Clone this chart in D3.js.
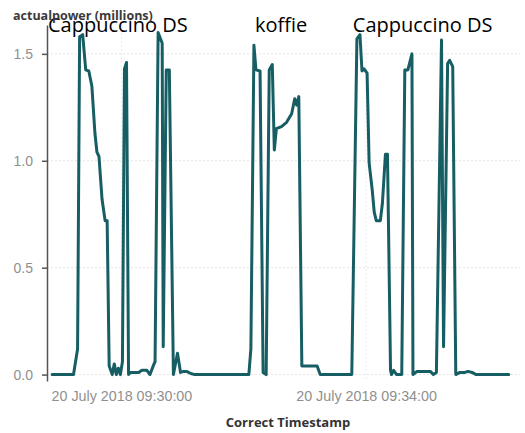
<!DOCTYPE html>
<html>
<head>
<meta charset="utf-8">
<script src="https://cdn.jsdelivr.net/npm/d3@7"></script>
<style>
  body { margin: 0; background: #fff; }
  svg { display: block; font-family: "Open Sans", sans-serif; }
</style>
</head>
<body>
<svg id="power-chart" width="525" height="433"></svg>
<script>
// readings, times on 20 July 2018
var times = [
    "09:28:52", "09:29:13", "09:29:17", "09:29:19", "09:29:22", "09:29:25", "09:29:28", "09:29:31",
    "09:29:34", "09:29:36", "09:29:38", "09:29:41", "09:29:44", "09:29:46", "09:29:48", "09:29:51",
    "09:29:53", "09:29:55", "09:29:57", "09:29:59", "09:30:01", "09:30:03", "09:30:05", "09:30:07",
    "09:30:09", "09:30:17", "09:30:20", "09:30:25", "09:30:28", "09:30:32", "09:30:33", "09:30:36",
    "09:30:40", "09:30:41", "09:30:44", "09:30:47", "09:30:51", "09:30:55", "09:30:58", "09:31:01",
    "09:31:04", "09:31:08", "09:31:12", "09:32:05", "09:32:07", "09:32:10", "09:32:12", "09:32:16",
    "09:32:19", "09:32:22", "09:32:25", "09:32:28", "09:32:30", "09:32:32", "09:32:37", "09:32:42",
    "09:32:47", "09:32:50", "09:32:52", "09:32:54", "09:32:57", "09:33:12", "09:33:15", "09:33:46",
    "09:33:51", "09:33:54", "09:33:56", "09:33:58", "09:34:01", "09:34:03", "09:34:06", "09:34:08",
    "09:34:10", "09:34:14", "09:34:16", "09:34:19", "09:34:21", "09:34:24", "09:34:25", "09:34:27",
    "09:34:30", "09:34:35", "09:34:38", "09:34:41", "09:34:45", "09:34:46", "09:34:50", "09:34:59",
    "09:35:03", "09:35:06", "09:35:09", "09:35:14", "09:35:16", "09:35:20", "09:35:22", "09:35:25",
    "09:35:28", "09:35:32", "09:35:37", "09:35:40", "09:35:44", "09:35:48", "09:36:20"
];

// actualpower in millions
var power = [
    0, 0, 0.12, 1.58, 1.59, 1.425, 1.42, 1.35,
    1.13, 1.04, 1.02, 0.82, 0.72, 0.72, 0.04, 0,
    0.05, 0, 0.03, 0, 0.06, 1.43, 1.46, 0,
    0.01, 0.01, 0.02, 0.02, 0, 0.05, 0.06, 1.6,
    1.55, 0.13, 1.425, 1.425, 0, 0.1, 0.01, 0.015,
    0.015, 0.005, 0, 0, 0.12, 1.54, 1.425, 1.42,
    0.01, 0, 1.425, 1.45, 1.05, 1.15, 1.16, 1.18,
    1.22, 1.29, 1.26, 1.3, 0.04, 0.04, 0, 0,
    1.57, 1.59, 1.42, 1.43, 1.41, 0.99, 0.865, 0.76,
    0.72, 0.72, 0.8, 1.03, 1.03, 0.02, 0, 0.02,
    0, 0, 1.425, 1.425, 1.5, 0, 0.015, 0.015,
    0.015, 0, 0.01, 1.565, 0.13, 1.455, 1.47, 1.44,
    0, 0.01, 0.01, 0.015, 0.01, 0, 0
];

var xStart = "09:28:47";
var xEnd = "09:36:31";
var xTicks = ["09:30:00", "09:34:00"];
var yTicks = [0, 0.5, 1.0, 1.5];
var yMin = -0.03, yMax = 1.635;

var notes = ["Cappuccino DS", "koffie", "Cappuccino DS"];
var noteTimes = ["09:28:48", "09:32:11", "09:33:47"];

var parseTime = d3.timeParse("%Y-%m-%d %H:%M:%S");
function toDate(t) { return parseTime("2018-07-20 " + t); }

function drawPowerChart() {
    let chart = d3.select("#power-chart"),
        margin = { top: 25, right: 5, bottom: 52, left: 47 },
        width = +chart.attr("width") - margin.left - margin.right,
        height = +chart.attr("height") - margin.top - margin.bottom;

    let chartData = [];
    for (let i = 0; i < times.length; i++) {
        chartData.push({ 'Time': toDate(times[i]), 'Value': power[i] });
    }

    let x = d3.scaleTime()
        .domain([toDate(xStart), toDate(xEnd)])
        .range([0, width]);

    let y = d3.scaleLinear()
        .domain([yMin, yMax])
        .range([height, 0]);

    let focus = chart.append("g")
        .attr("transform", "translate(" + margin.left + "," + margin.top + ")");

    // grid
    focus.append("g")
        .selectAll("line")
        .data(yTicks)
        .join("line")
        .attr("x1", 0)
        .attr("x2", width)
        .attr("y1", d => y(d))
        .attr("y2", d => y(d))
        .style("stroke", "#e4e4e4")
        .style("stroke-dasharray", "2,2");

    focus.append("g")
        .selectAll("line")
        .data(xTicks)
        .join("line")
        .attr("x1", d => x(toDate(d)))
        .attr("x2", d => x(toDate(d)))
        .attr("y1", 0)
        .attr("y2", height)
        .style("stroke", "#ececec")
        .style("stroke-dasharray", "2,2");

    let yAxis = d3.axisLeft(y)
        .tickValues(yTicks)
        .tickFormat(d3.format(".1f"))
        .tickSize(5)
        .tickSizeOuter(0)
        .tickPadding(9);

    let yg = chart.append("g")
        .attr("class", "y axis")
        .attr("transform", "translate(" + margin.left + "," + margin.top + ")")
        .call(yAxis);
    yg.select(".domain").style("stroke", "#555").style("stroke-width", 1.5);
    yg.selectAll(".tick line").style("stroke", "#555").style("stroke-width", 1.5);
    yg.selectAll("text")
        .style("font-size", "14px")
        .style("fill", "#8f8f8f");

    let xAxis = d3.axisBottom(x)
        .tickValues(xTicks.map(toDate))
        .tickFormat(d3.timeFormat("%d %B %Y %H:%M:%S"))
        .tickSize(0)
        .tickPadding(10);

    let xg = chart.append("g")
        .attr("class", "x axis")
        .attr("transform", "translate(" + margin.left + "," + (margin.top + height) + ")")
        .call(xAxis);
    xg.select(".domain").remove();
    xg.selectAll("text")
        .style("font-size", "14.3px")
        .style("fill", "#8f8f8f");

    let line = d3.line()
        .x(d => x(d.Time))
        .y(d => y(d.Value));

    focus.append("path")
        .datum(chartData)
        .attr("d", line)
        .style("fill", "none")
        .style("stroke", "#175e64")
        .style("stroke-width", "3px")
        .style("stroke-linejoin", "round")
        .style("stroke-linecap", "round");

    chart.append("text")
        .attr("x", 13)
        .attr("y", 20)
        .style("font-size", "12.5px")
        .style("font-weight", "bold")
        .style("fill", "#3a3a3a")
        .text("actualpower (millions)");

    chart.append("text")
        .attr("text-anchor", "middle")
        .attr("x", 288)
        .attr("y", 427)
        .style("font-size", "13px")
        .style("font-weight", "bold")
        .style("fill", "#333")
        .text("Correct Timestamp");

    focus.append("g")
        .selectAll("text")
        .data(notes)
        .join("text")
        .attr("x", (d, i) => x(toDate(noteTimes[i])))
        .attr("y", 32 - margin.top)
        .style("font-size", "20px")
        .style("fill", "#000")
        .text(d => d);
}

drawPowerChart();
</script>
</body>
</html>
